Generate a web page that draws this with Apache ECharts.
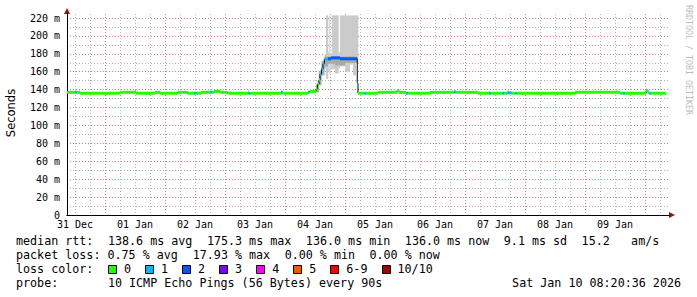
<!DOCTYPE html>
<html><head><meta charset="utf-8">
<script src="https://cdn.jsdelivr.net/npm/echarts@6/dist/echarts.min.js"></script>
<style>html,body{margin:0;padding:0;background:#fff}#c{width:697px;height:297px}</style>
</head><body><div id="c"></div>
<script>
// ---- tick labels ----
const dayLabels = ['31 Dec','01 Jan','02 Jan','03 Jan','04 Jan','05 Jan','06 Jan','07 Jan','08 Jan','09 Jan'];
const yTickLabels = ['0','20 m','40 m','60 m','80 m','100 m','120 m','140 m','160 m','180 m','200 m','220 m'];

// ---- median rtt (ms), hours since 31 Dec 00:00, segment starts ----
const medHour  = [-3.2, 0, 0.8, 2, 18, 24, 24.4, 32, 34, 41, 45, 47.6, 48.4, 50.4, 54, 54.8, 55.6, 58, 61, 69.4, 70.2, 82.4, 83.2, 93.2, 93.8, 96.4, 97, 97.6, 98, 98.6, 99.2, 99.8, 101.2, 102.4, 106, 112.9, 113.2, 115.8, 116.4, 121.2, 128.8, 129.6, 132.4, 133.2, 142, 151.6, 152.4, 161.2, 165.6, 166.4, 170.8, 171.6, 173, 174.6, 176.2, 177, 200, 218, 219.2, 220, 228.4, 229.2, 229.6, 230.4];
const medValue = [137, 137, 137, 136, 137, 137.8, 136, 137, 136, 137, 136, 136, 136, 137, 137, 137, 138, 137, 136, 136, 136, 137, 136, 137, 138, 141, 146, 151, 157, 163, 169, 174, 174.5, 175.5, 174.5, 147, 136, 136, 136, 137, 139, 137, 136, 136, 137, 137.5, 137, 136, 136, 136, 136, 136, 136.5, 136, 136, 136, 137, 136, 136, 136, 139, 137, 136, 136];
const medLoss  = [0,1,0,0,0,0,0,0,0,0, 0,1,0,0,1,0,0,0,0,1, 0,1,0,1,0,0,0,0,1,1, 1,1,2,2,2,1,0,1,0,0, 0,0,1,0,0,1,0,0,1,0, 1,0,1,0,1,0,0,0,1,0, 0,0,1,0];
const medEndHour = 236.4;

// ---- smoke (ping spread) ----
const smokeFrom = [69.2, 96.4, 97, 97.6, 98, 98.6, 99.2, 99.8, 100.4, 101.3, 101.7, 102.1, 102.7, 104, 105.5, 106, 108, 110, 111.2, 112.4, 151.6, 173, 228.4];
const smokeTo   = [69.6, 97, 97.6, 98, 98.6, 99.2, 99.8, 100.4, 101.3, 101.7, 102.1, 102.7, 104, 105.5, 106, 108, 110, 111.2, 112.4, 113.3, 152, 173.4, 228.8];
const smokeLo   = [136, 137, 140, 145, 150, 156, 160, 164, 152, 160, 158, 162, 163, 158, 164, 166, 160, 168, 156, 170, 136, 136, 136];
const smokeHi   = [140, 145, 150, 156, 162, 168, 174, 180, 223, 182, 223, 181, 223, 223, 182, 223, 223, 223, 223, 223, 141, 140, 142];
const coreFrom = [96.4, 97.6, 98.6, 99.8, 101.2, 104, 108];
const coreTo   = [97.6, 98.6, 99.8, 101.2, 104, 108, 112.8];
const coreLo   = [137, 145, 156, 166, 169, 167, 170];
const coreHi   = [146, 160, 172, 177, 177, 177, 177];

// ---- legend ----
const lossLabels = ['0','1','2','3','4','5','6-9','10/10'];
const lossColors = ['#26ff00','#00b8ff','#0059ff','#7e00ff','#ff00ff','#ff5500','#ff0000','#a00000'];
const rttLine   = 'median rtt:  138.6 ms avg  175.3 ms max  136.0 ms min  136.0 ms now  9.1 ms sd  15.2   am/s';
const lossLine  = 'packet loss: 0.75 % avg  17.93 % max  0.00 % min  0.00 % now';
const colorLine = 'loss color:';
const probeLine = 'probe:       10 ICMP Echo Pings (56 Bytes) every 90s';
const dateText  = 'Sat Jan 10 08:20:36 2026';
const watermark = 'RRDTOOL / TOBI OETIKER';
const yName = 'Seconds';

// ---- layout ----
const X_MIN = -3.2, X_MAX = 237.6, Y_MAX = 224.5;
const MONO = '"DejaVu Sans Mono", monospace';
const LEG_X = 16, CHAR_W = 7.07, LEG_FONT = '11.7px ' + MONO;
const MINOR = '#b4b4b4', MAJOR = '#e07c7c', ARROW = '#901414';
const DASH = [1, 2];

const labelHours = dayLabels.map((d, i) => i * 24);
const majorHours = dayLabels.map((d, i) => i * 24 + 12);
const minorHours = [];
dayLabels.forEach((d, i) => [0, 6, 18].forEach(o => { const h = i * 24 + o; if (h < X_MAX) minorHours.push(h); }));

const medItems = medHour.map((h, i) => [h, i + 1 < medHour.length ? medHour[i + 1] : medEndHour, medValue[i], medLoss[i]]);
const medLinePts = medHour.map((h, i) => [h, medValue[i]]).concat([[medEndHour, medValue[medValue.length - 1]]]);
const smokeItems = smokeFrom.map((h, i) => [h, smokeTo[i], smokeLo[i], smokeHi[i]]);
const coreItems = coreFrom.map((h, i) => [h, coreTo[i], coreLo[i], coreHi[i]]);

function band(fill) {
  return function (params, api) {
    const a = api.coord([api.value(0), api.value(3)]);
    const b = api.coord([api.value(1), api.value(2)]);
    return { type: 'rect', shape: { x: a[0], y: a[1], width: b[0] - a[0], height: b[1] - a[1] }, style: { fill: fill } };
  };
}

function lineTexts(str, y) {
  const out = []; const re = /\S+(?: \S+)*/g; let m;
  while ((m = re.exec(str))) {
    out.push({ type: 'text', x: LEG_X + m.index * CHAR_W, y: y,
      style: { text: m[0], font: LEG_FONT, fill: '#000', align: 'left', verticalAlign: 'middle' } });
  }
  return out;
}

const graphics = [];
graphics.push(...lineTexts(rttLine, 241));
graphics.push(...lineTexts(lossLine, 255));
graphics.push(...lineTexts(colorLine, 269));
graphics.push(...lineTexts(probeLine, 283));
graphics.push({ type: 'text', x: 681, y: 283, style: { text: dateText, font: LEG_FONT, fill: '#000', align: 'right', verticalAlign: 'middle' } });
let bx = LEG_X + 13 * CHAR_W;
lossLabels.forEach((lab, i) => {
  const x0 = Math.round(bx);
  graphics.push({ type: 'rect', shape: { x: x0 + 0.5, y: 265.5, width: 8, height: 8 }, style: { fill: lossColors[i], stroke: '#000', lineWidth: 1 } });
  graphics.push({ type: 'text', x: bx + 16, y: 269, style: { text: lab, font: LEG_FONT, fill: '#000', align: 'left', verticalAlign: 'middle' } });
  bx = bx + 16 + lab.length * CHAR_W + 14;
});
graphics.push({ type: 'text', x: 11, y: 113, rotation: Math.PI / 2,
  style: { text: yName, font: '11.5px "DejaVu Sans", sans-serif', fill: '#000', align: 'center', verticalAlign: 'middle' } });
graphics.push({ type: 'text', x: 688.5, y: 60, rotation: -Math.PI / 2,
  style: { text: watermark, font: '8.3px ' + MONO, fill: '#bdbdbd', align: 'center', verticalAlign: 'middle' } });

const chart = echarts.init(document.getElementById('c'), null, { renderer: 'svg', width: 697, height: 297 });
chart.setOption({
  animation: false,
  backgroundColor: '#fff',
  grid: { left: 67, right: 28, top: 14, bottom: 82, containLabel: false, outerBoundsMode: 'none' },
  xAxis: [
    { type: 'value', min: X_MIN, max: X_MAX, position: 'bottom', z: 1,
      axisLine: { show: true, onZero: false, lineStyle: { color: '#000', width: 1 } },
      axisTick: { show: false, customValues: minorHours },
      axisLabel: { customValues: labelHours, formatter: v => dayLabels[Math.round(v / 24)] || '',
        fontFamily: MONO, fontSize: 10, color: '#000', margin: 4 },
      splitLine: { show: true, lineStyle: { color: MINOR, width: 1, type: DASH } } },
    { type: 'value', min: X_MIN, max: X_MAX, position: 'bottom', z: 0,
      axisLine: { show: true, onZero: false, symbol: ['none', 'triangle'], symbolSize: [6, 6], symbolOffset: [0, 3], lineStyle: { color: ARROW, width: 1 } },
      axisTick: { show: false, customValues: majorHours },
      axisLabel: { show: false },
      splitLine: { show: true, lineStyle: { color: MAJOR, width: 1, type: DASH } } }
  ],
  yAxis: [
    { type: 'value', min: 0, max: Y_MAX, interval: 10, position: 'left', z: 1,
      axisLine: { show: true, onZero: false, lineStyle: { color: '#000', width: 1 } },
      axisTick: { show: false },
      axisLabel: { formatter: v => (v % 20 === 0 ? (yTickLabels[v / 20] || '') : ''), showMaxLabel: false,
        fontFamily: MONO, fontSize: 10, color: '#000', margin: 7 },
      splitLine: { show: true, showMaxLine: false, lineStyle: { color: [MAJOR, MINOR], width: 1, type: DASH } } },
    { type: 'value', min: 0, max: Y_MAX, position: 'left', z: 0,
      axisLine: { show: true, onZero: false, symbol: ['none', 'triangle'], symbolSize: [6, 6], symbolOffset: [0, 3], lineStyle: { color: ARROW, width: 1 } },
      axisTick: { show: false }, axisLabel: { show: false }, splitLine: { show: false } }
  ],
  series: [
    { type: 'custom', name: 'smoke', xAxisIndex: 0, yAxisIndex: 0, renderItem: band('#cbcbcb'), data: smokeItems, encode: { x: [0, 1], y: [2, 3] }, z: 2, silent: true },
    { type: 'custom', name: 'core', xAxisIndex: 0, yAxisIndex: 0, renderItem: band('#a9a9a9'), data: coreItems, encode: { x: [0, 1], y: [2, 3] }, z: 3, silent: true },
    { type: 'line', name: 'median', xAxisIndex: 0, yAxisIndex: 0, step: 'end', data: medLinePts, showSymbol: false, symbol: 'none',
      lineStyle: { color: '#000', width: 1 }, z: 4, silent: true },
    { type: 'custom', name: 'loss', xAxisIndex: 0, yAxisIndex: 0, data: medItems, encode: { x: [0, 1], y: 2 }, z: 5, silent: true,
      renderItem: function (params, api) {
        const a = api.coord([api.value(0), api.value(2)]);
        const b = api.coord([api.value(1), api.value(2)]);
        return { type: 'rect', shape: { x: a[0], y: a[1] - 1.5, width: b[0] - a[0], height: 3 }, style: { fill: lossColors[api.value(3)] } };
      } }
  ],
  graphic: graphics
});
</script></body></html>
